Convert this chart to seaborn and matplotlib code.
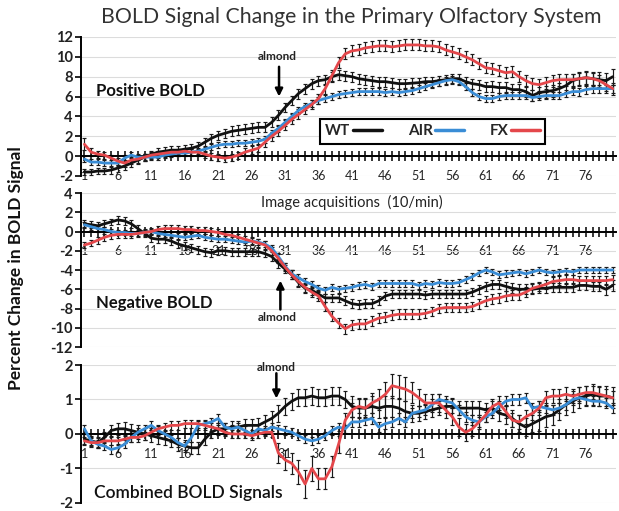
import numpy as np
import seaborn as sns
import matplotlib.pyplot as plt
from matplotlib.lines import Line2D

# Setup
sns.set_theme(style="white")
plt.rcParams['font.family'] = ['Lato', 'DejaVu Sans']
plt.rcParams['axes.unicode_minus'] = False

# image acquisitions 1..80
acq = list(range(1, 81))
tick_labels = [str(i) for i in range(1, 81, 5)]

# ---- Positive BOLD ----
pos_wt = [-1.6, -1.6, -1.5, -1.5, -1.4, -1.2, -1.0, -0.7, -0.4, -0.1,
          0.2, 0.4, 0.5, 0.6, 0.6, 0.7, 0.8, 1.0, 1.4, 1.8,
          2.1, 2.3, 2.5, 2.6, 2.7, 2.8, 2.9, 2.9, 3.4, 4.1,
          4.9, 5.6, 6.3, 6.8, 7.3, 7.6, 7.7, 8.0, 8.2, 8.1,
          8.0, 7.8, 7.7, 7.6, 7.5, 7.5, 7.4, 7.3, 7.3, 7.35,
          7.4, 7.5, 7.5, 7.6, 7.7, 7.8, 7.8, 7.5, 7.3, 7.2,
          7.0, 7.0, 6.9, 6.9, 6.7, 6.7, 6.5, 6.1, 6.4, 6.5,
          6.6, 6.8, 7.1, 7.6, 7.8, 7.9, 7.8, 7.7, 7.6, 8.0]
pos_air = [-0.3, -0.6, -0.6, -0.7, -0.7, -0.7, -0.2, 0.1, -0.1, -0.1,
           -0.1, -0.1, 0.1, 0.2, 0.3, 0.3, 0.4, 0.5, 0.7, 0.9,
           1.1, 1.2, 1.2, 1.3, 1.3, 1.4, 1.5, 1.7, 2.3, 2.8,
           3.4, 4.0, 4.6, 5.0, 5.3, 5.6, 5.8, 6.0, 6.2, 6.3,
           6.4, 6.5, 6.5, 6.5, 6.5, 6.4, 6.5, 6.4, 6.5, 6.6,
           6.8, 7.0, 7.2, 7.4, 7.6, 7.7, 7.5, 7.0, 6.4, 6.0,
           5.8, 5.8, 6.0, 6.1, 6.1, 6.1, 6.1, 5.9, 6.0, 6.1,
           6.1, 6.1, 6.3, 6.5, 6.5, 6.7, 6.8, 6.8, 6.8, 6.8]
pos_fx = [1.2, 0.4, 0.2, 0.1, -0.2, -0.5, -0.7, -0.4, -0.3, -0.1,
          0.1, 0.2, 0.3, 0.4, 0.4, 0.5, 0.4, 0.4, 0.2, 0.0,
          -0.1, -0.2, -0.1, 0.1, 0.4, 0.6, 0.8, 1.4, 2.0, 2.5,
          3.1, 3.7, 4.2, 4.7, 5.2, 5.8, 6.8, 8.1, 9.4, 10.3,
          10.6, 10.7, 10.9, 11.0, 11.1, 11.1, 11.0, 11.1, 11.2, 11.2,
          11.2, 11.1, 11.1, 11.0, 10.7, 10.5, 10.3, 10.0, 9.7, 9.3,
          8.9, 8.8, 8.6, 8.4, 8.5, 8.0, 7.6, 7.3, 7.2, 7.4,
          7.6, 7.7, 7.7, 7.7, 7.8, 7.9, 7.8, 7.6, 7.2, 6.8]
pos_wt_err = [0.3, 0.3, 0.3, 0.35, 0.35, 0.35, 0.35, 0.35, 0.35, 0.35,
              0.35, 0.4, 0.4, 0.4, 0.4, 0.4, 0.4, 0.45, 0.45, 0.45,
              0.45, 0.45, 0.5, 0.5, 0.5, 0.5, 0.5, 0.5, 0.5, 0.5,
              0.5, 0.5, 0.5, 0.5, 0.5, 0.5, 0.5, 0.5, 0.5, 0.5,
              0.5, 0.5, 0.5, 0.5, 0.5, 0.5, 0.5, 0.5, 0.5, 0.5,
              0.5, 0.5, 0.5, 0.5, 0.5, 0.5, 0.5, 0.5, 0.5, 0.5,
              0.5, 0.55, 0.55, 0.55, 0.55, 0.55, 0.55, 0.55, 0.55, 0.6,
              0.6, 0.6, 0.65, 0.65, 0.7, 0.7, 0.7, 0.75, 0.8, 0.8]
pos_air_err = [0.3, 0.3, 0.3, 0.3, 0.3, 0.3, 0.3, 0.3, 0.3, 0.3,
               0.3, 0.3, 0.3, 0.3, 0.3, 0.3, 0.3, 0.3, 0.3, 0.3,
               0.3, 0.3, 0.3, 0.3, 0.3, 0.3, 0.35, 0.35, 0.35, 0.35,
               0.35, 0.35, 0.35, 0.35, 0.35, 0.35, 0.35, 0.35, 0.35, 0.35,
               0.35, 0.35, 0.35, 0.35, 0.35, 0.35, 0.35, 0.35, 0.35, 0.35,
               0.35, 0.35, 0.35, 0.35, 0.35, 0.35, 0.35, 0.35, 0.35, 0.35,
               0.35, 0.35, 0.35, 0.35, 0.35, 0.35, 0.35, 0.35, 0.35, 0.35,
               0.35, 0.35, 0.35, 0.35, 0.4, 0.4, 0.4, 0.4, 0.4, 0.4]
pos_fx_err = [0.6, 0.4, 0.35, 0.35, 0.35, 0.35, 0.35, 0.35, 0.35, 0.35,
              0.35, 0.35, 0.35, 0.35, 0.35, 0.35, 0.35, 0.35, 0.35, 0.35,
              0.35, 0.35, 0.35, 0.35, 0.4, 0.4, 0.4, 0.45, 0.45, 0.5,
              0.5, 0.5, 0.5, 0.5, 0.5, 0.5, 0.5, 0.55, 0.55, 0.55,
              0.55, 0.55, 0.55, 0.55, 0.55, 0.55, 0.55, 0.55, 0.55, 0.55,
              0.55, 0.55, 0.55, 0.55, 0.55, 0.55, 0.55, 0.55, 0.55, 0.55,
              0.55, 0.55, 0.55, 0.55, 0.55, 0.55, 0.6, 0.6, 0.6, 0.6,
              0.6, 0.6, 0.6, 0.6, 0.6, 0.6, 0.6, 0.6, 0.6, 0.6]

# ---- Negative BOLD ----
neg_wt = [0.8, 0.7, 0.6, 0.8, 1.0, 1.2, 1.1, 0.8, 0.3, -0.2,
          -0.7, -0.8, -0.8, -1.0, -1.3, -1.5, -1.7, -1.9, -2.1, -2.2,
          -2.0, -2.0, -2.1, -2.1, -2.1, -2.1, -2.1, -2.3, -2.6, -3.3,
          -3.9, -4.5, -5.3, -5.9, -6.1, -6.5, -6.9, -6.9, -6.9, -7.2,
          -7.5, -7.6, -7.5, -7.5, -7.2, -6.7, -6.5, -6.5, -6.5, -6.5,
          -6.5, -6.6, -6.5, -6.5, -6.5, -6.5, -6.5, -6.5, -6.3, -6.0,
          -5.7, -5.5, -5.5, -5.7, -5.9, -6.0, -6.0, -6.0, -5.9, -5.9,
          -5.8, -5.8, -5.8, -5.8, -5.6, -5.6, -5.7, -5.7, -6.0, -5.6]
neg_air = [0.7, 0.5, 0.3, 0.2, 0.0, -0.1, -0.1, -0.2, -0.2, -0.1,
           0.0, -0.2, -0.3, -0.4, -0.5, -0.6, -0.5, -0.4, -0.6, -0.7,
           -0.8, -0.8, -0.9, -1.0, -1.1, -1.0, -1.1, -1.3, -1.7, -2.6,
           -3.6, -4.4, -4.8, -5.2, -5.5, -5.9, -6.1, -5.8, -6.0, -5.9,
           -5.8, -5.6, -5.5, -5.7, -5.4, -5.4, -5.4, -5.4, -5.4, -5.4,
           -5.6, -5.4, -5.5, -5.3, -5.4, -5.4, -5.3, -5.0, -4.7, -4.3,
           -4.0, -4.2, -4.5, -4.4, -4.3, -4.2, -4.4, -4.2, -4.0, -4.2,
           -4.3, -4.2, -4.1, -4.2, -4.0, -4.0, -4.0, -4.0, -4.0, -4.0]
neg_fx = [-1.4, -1.2, -0.9, -0.6, -0.4, -0.3, -0.3, -0.3, -0.2, -0.1,
          0.0, 0.2, 0.3, 0.3, 0.3, 0.2, 0.2, 0.1, 0.1, 0.0,
          -0.1, -0.3, -0.4, -0.6, -0.8, -1.0, -1.2, -1.4, -2.0, -2.8,
          -3.7, -4.5, -5.2, -5.8, -6.3, -6.7, -7.8, -8.8, -9.5, -10.1,
          -9.7, -9.6, -9.6, -9.3, -9.0, -8.9, -8.7, -8.6, -8.6, -8.6,
          -8.6, -8.5, -8.3, -8.0, -7.9, -7.9, -7.9, -7.9, -7.8, -7.5,
          -7.2, -7.0, -6.9, -6.7, -6.6, -6.6, -6.3, -5.9, -5.7, -5.5,
          -5.2, -5.1, -5.0, -5.0, -5.1, -5.1, -5.1, -5.1, -5.1, -5.0]
neg_wt_err = [0.35, 0.35, 0.35, 0.35, 0.35, 0.4, 0.4, 0.4, 0.4, 0.4,
              0.4, 0.4, 0.4, 0.4, 0.4, 0.4, 0.4, 0.4, 0.4, 0.4,
              0.4, 0.4, 0.4, 0.4, 0.4, 0.4, 0.4, 0.4, 0.45, 0.45,
              0.45, 0.45, 0.45, 0.45, 0.45, 0.45, 0.45, 0.45, 0.45, 0.45,
              0.45, 0.45, 0.45, 0.45, 0.45, 0.45, 0.45, 0.45, 0.45, 0.45,
              0.45, 0.45, 0.45, 0.45, 0.45, 0.45, 0.45, 0.45, 0.45, 0.45,
              0.45, 0.45, 0.45, 0.45, 0.5, 0.5, 0.5, 0.5, 0.5, 0.5,
              0.5, 0.5, 0.5, 0.5, 0.5, 0.5, 0.5, 0.5, 0.55, 0.55]
neg_air_err = [0.3, 0.3, 0.3, 0.3, 0.3, 0.3, 0.3, 0.3, 0.3, 0.3,
               0.3, 0.3, 0.3, 0.3, 0.3, 0.3, 0.3, 0.3, 0.3, 0.3,
               0.3, 0.3, 0.3, 0.3, 0.3, 0.3, 0.3, 0.3, 0.3, 0.35,
               0.35, 0.35, 0.35, 0.35, 0.35, 0.35, 0.35, 0.35, 0.35, 0.35,
               0.35, 0.35, 0.35, 0.35, 0.35, 0.35, 0.35, 0.35, 0.35, 0.35,
               0.35, 0.35, 0.35, 0.35, 0.35, 0.35, 0.35, 0.35, 0.35, 0.35,
               0.35, 0.35, 0.35, 0.35, 0.35, 0.35, 0.35, 0.35, 0.35, 0.35,
               0.35, 0.35, 0.35, 0.35, 0.35, 0.35, 0.35, 0.35, 0.35, 0.35]
neg_fx_err = [0.35, 0.35, 0.35, 0.35, 0.35, 0.35, 0.35, 0.35, 0.35, 0.35,
              0.35, 0.35, 0.35, 0.35, 0.35, 0.35, 0.35, 0.35, 0.35, 0.35,
              0.35, 0.35, 0.35, 0.35, 0.35, 0.4, 0.4, 0.4, 0.4, 0.45,
              0.45, 0.45, 0.45, 0.45, 0.5, 0.5, 0.5, 0.5, 0.5, 0.5,
              0.5, 0.5, 0.5, 0.5, 0.5, 0.5, 0.5, 0.5, 0.5, 0.5,
              0.5, 0.5, 0.5, 0.5, 0.5, 0.5, 0.5, 0.5, 0.5, 0.5,
              0.5, 0.5, 0.5, 0.5, 0.5, 0.5, 0.5, 0.5, 0.5, 0.5,
              0.45, 0.45, 0.45, 0.45, 0.45, 0.45, 0.45, 0.45, 0.45, 0.45]

# ---- Combined BOLD ----
com_wt = [-0.15, -0.2, -0.25, -0.1, 0.1, 0.15, 0.15, 0.1, 0.05, 0.0,
          -0.05, -0.1, -0.15, -0.2, -0.3, -0.35, -0.4, -0.4, -0.15, 0.05,
          0.15, 0.15, 0.2, 0.2, 0.25, 0.25, 0.25, 0.35, 0.45, 0.6,
          0.8, 0.95, 1.05, 1.05, 1.1, 1.05, 1.05, 1.1, 1.1, 1.0,
          0.8, 0.75, 0.75, 0.8, 0.75, 0.8, 0.8, 0.75, 0.65, 0.6,
          0.6, 0.65, 0.7, 0.75, 0.8, 0.8, 0.75, 0.75, 0.75, 0.75,
          0.7, 0.75, 0.6, 0.55, 0.45, 0.3, 0.2, 0.3, 0.4, 0.5,
          0.55, 0.7, 0.85, 0.95, 1.05, 1.1, 1.15, 1.1, 1.1, 1.05]
com_air = [0.15, -0.2, -0.3, -0.35, -0.45, -0.4, -0.3, -0.1, 0.05, 0.15,
           0.25, 0.1, 0.0, -0.1, -0.25, -0.35, -0.1, 0.25, 0.3, 0.35,
           0.45, 0.2, 0.15, 0.2, 0.1, 0.0, 0.15, 0.1, 0.2, 0.15,
           0.1, 0.05, -0.05, -0.15, -0.2, -0.15, -0.05, 0.1, 0.2, 0.15,
           0.35, 0.35, 0.4, 0.45, 0.2, 0.3, 0.35, 0.45, 0.35, 0.6,
           0.65, 0.7, 0.85, 1.0, 0.95, 0.9, 0.7, 0.5, 0.4, 0.35,
           0.5, 0.6, 0.8, 0.95, 1.0, 1.0, 1.05, 0.75, 0.8, 0.75,
           0.7, 0.75, 0.85, 1.0, 1.05, 1.0, 0.95, 0.95, 0.9, 0.75]
com_fx = [-0.2, -0.25, -0.25, -0.2, -0.2, -0.2, -0.15, -0.1, -0.1, -0.05,
          0.05, 0.15, 0.2, 0.25, 0.25, 0.3, 0.3, 0.3, 0.25, 0.2,
          0.15, 0.05, 0.0, 0.0, 0.0, -0.05, 0.0, 0.05, 0.05, -0.55,
          -0.75, -0.85, -1.1, -1.45, -1.0, -1.3, -1.3, -0.95, -0.3, 0.4,
          0.7, 0.8, 0.75, 0.9, 1.0, 1.15, 1.4, 1.35, 1.3, 1.2,
          1.05, 0.9, 0.9, 0.9, 0.7, 0.5, 0.2, 0.05, 0.15, 0.35,
          0.55, 0.8, 0.9, 0.65, 0.4, 0.35, 0.5, 0.6, 0.75, 1.05,
          1.1, 1.1, 1.15, 1.1, 1.15, 1.2, 1.2, 1.15, 1.1, 1.05]
com_wt_err = [0.15, 0.15, 0.15, 0.15, 0.15, 0.18, 0.2, 0.2, 0.2, 0.18,
              0.18, 0.18, 0.18, 0.18, 0.18, 0.18, 0.18, 0.18, 0.18, 0.18,
              0.18, 0.18, 0.18, 0.18, 0.18, 0.18, 0.2, 0.2, 0.22, 0.25,
              0.25, 0.25, 0.25, 0.25, 0.25, 0.25, 0.25, 0.25, 0.25, 0.25,
              0.3, 0.3, 0.3, 0.3, 0.3, 0.3, 0.3, 0.3, 0.3, 0.25,
              0.22, 0.22, 0.2, 0.2, 0.2, 0.2, 0.2, 0.2, 0.2, 0.2,
              0.2, 0.2, 0.22, 0.25, 0.25, 0.25, 0.25, 0.25, 0.3, 0.3,
              0.3, 0.3, 0.3, 0.3, 0.3, 0.3, 0.3, 0.3, 0.3, 0.3]
com_air_err = [0.12, 0.12, 0.12, 0.12, 0.12, 0.12, 0.12, 0.12, 0.12, 0.12,
               0.12, 0.12, 0.12, 0.12, 0.12, 0.12, 0.12, 0.12, 0.12, 0.12,
               0.12, 0.12, 0.12, 0.12, 0.12, 0.12, 0.12, 0.12, 0.12, 0.12,
               0.12, 0.12, 0.12, 0.12, 0.12, 0.12, 0.12, 0.12, 0.12, 0.12,
               0.15, 0.15, 0.15, 0.15, 0.15, 0.15, 0.15, 0.15, 0.15, 0.15,
               0.15, 0.15, 0.15, 0.15, 0.15, 0.15, 0.15, 0.15, 0.15, 0.15,
               0.15, 0.15, 0.15, 0.15, 0.15, 0.15, 0.15, 0.15, 0.15, 0.15,
               0.15, 0.15, 0.15, 0.15, 0.15, 0.15, 0.15, 0.15, 0.15, 0.15]
com_fx_err = [0.12, 0.12, 0.12, 0.12, 0.12, 0.12, 0.12, 0.12, 0.12, 0.12,
              0.12, 0.12, 0.12, 0.12, 0.12, 0.12, 0.12, 0.12, 0.12, 0.12,
              0.12, 0.12, 0.12, 0.12, 0.12, 0.12, 0.12, 0.12, 0.15, 0.3,
              0.3, 0.3, 0.35, 0.4, 0.35, 0.3, 0.3, 0.3, 0.25, 0.2,
              0.2, 0.2, 0.25, 0.3, 0.3, 0.35, 0.35, 0.35, 0.35, 0.3,
              0.25, 0.25, 0.25, 0.25, 0.25, 0.25, 0.25, 0.25, 0.2, 0.2,
              0.2, 0.2, 0.2, 0.2, 0.2, 0.2, 0.2, 0.2, 0.2, 0.2,
              0.2, 0.2, 0.2, 0.2, 0.2, 0.2, 0.2, 0.2, 0.2, 0.2]

colors = {'WT': '#111111', 'AIR': '#3a8dd6', 'FX': '#e4474b'}

panels = [
    dict(series=[('WT', pos_wt, pos_wt_err), ('AIR', pos_air, pos_air_err), ('FX', pos_fx, pos_fx_err)],
         ylim=(-2, 12), yticks=range(-2, 13, 2), rect=[0.131, 0.6556, 0.8643, 0.272]),
    dict(series=[('WT', neg_wt, neg_wt_err), ('AIR', neg_air, neg_air_err), ('FX', neg_fx, neg_fx_err)],
         ylim=(-12, 4), yticks=range(-12, 5, 2), rect=[0.131, 0.3209, 0.8643, 0.3014]),
    dict(series=[('WT', com_wt, com_wt_err), ('AIR', com_air, com_air_err), ('FX', com_fx, com_fx_err)],
         ylim=(-2, 2), yticks=range(-2, 3, 1), rect=[0.131, 0.0157, 0.8643, 0.270]),
]

fig = plt.figure(figsize=(6.19, 5.11), dpi=100)
axes = []
for p in panels:
    ax = fig.add_axes(p['rect'])
    ax.set_axisbelow(True)
    for name, vals, err in p['series']:
        ax.errorbar(acq, vals, yerr=err, fmt='none', ecolor='#1a1a1a',
                    elinewidth=0.85, capsize=1.7, capthick=0.85, zorder=2)
        sns.lineplot(x=acq, y=vals, color=colors[name], lw=2.0, ax=ax,
                     legend=False, zorder=3)
    ax.set_xlim(0.5, 80.5)
    ax.set_ylim(*p['ylim'])
    ax.set_yticks(list(p['yticks']))
    ax.set_yticklabels([str(v) for v in p['yticks']], fontweight='bold', color='#222222')
    ax.set_xticks(acq, minor=True)
    ax.set_xticks(list(range(1, 81, 5)))
    ax.set_xticklabels(tick_labels, fontweight='bold', color='#333333')
    ax.tick_params(axis='x', which='both', direction='inout', length=7, width=1.1,
                   color='black', labelsize=9, pad=6.5, bottom=True)
    ax.tick_params(axis='y', direction='out', length=4, width=1.2, color='black',
                   labelsize=10.5, pad=2, left=True)
    ax.yaxis.grid(True, color='#dcdcdc', lw=0.8)
    ax.xaxis.grid(False)
    for s in ['top', 'right']:
        ax.spines[s].set_visible(False)
    ax.spines['bottom'].set_position(('data', 0))
    ax.spines['bottom'].set_color('black')
    ax.spines['bottom'].set_linewidth(1.4)
    ax.spines['left'].set_color('black')
    ax.spines['left'].set_linewidth(1.4)
    ax.set_xlabel('')
    ax.set_ylabel('')
    ax.patch.set_alpha(0)
    axes.append(ax)

arrow = dict(arrowstyle='-|>', lw=1.8, color='black', mutation_scale=11, shrinkA=0, shrinkB=0)

# Panel 1 annotations
ax1 = axes[0]
ax1.text(2.8, 6.6, 'Positive BOLD', fontsize=12, fontweight='bold', color='#111111', va='center')
ax1.text(29.8, 10.0, 'almond', fontsize=8.5, fontweight='bold', color='#222222', ha='center', va='center')
ax1.annotate('', xy=(30.1, 6.0), xytext=(30.1, 9.0), arrowprops=arrow)
handles = [Line2D([0], [0], color=colors[k], lw=2.5) for k in ['WT', 'AIR', 'FX']]
leg = ax1.legend(handles, ['WT', 'AIR', 'FX'], ncol=3, loc='center',
                 bbox_to_anchor=(0.441, 0.236, 0.432, 0.171), markerfirst=False,
                 handlelength=1.9, handletextpad=0.15, columnspacing=1.7,
                 borderpad=0.35, fancybox=False, framealpha=1,
                 prop={'weight': 'bold', 'size': 11})
leg.get_frame().set_edgecolor('black')
leg.get_frame().set_linewidth(1.5)

# Panel 2 annotations
ax2 = axes[1]
ax2.text(41, 3.0, 'Image acquisitions  (10/min)', fontsize=10.5, color='#222222', ha='center', va='center')
ax2.text(2.8, -7.4, 'Negative BOLD', fontsize=12, fontweight='bold', color='#111111', va='center')
ax2.annotate('', xy=(30.3, -5.1), xytext=(30.3, -8.1), arrowprops=arrow)
ax2.text(29.8, -8.9, 'almond', fontsize=8.5, fontweight='bold', color='#222222', ha='center', va='center')

# Panel 3 annotations
ax3 = axes[2]
ax3.text(29.7, 1.93, 'almond', fontsize=8.5, fontweight='bold', color='#222222', ha='center', va='center')
ax3.annotate('', xy=(29.7, 1.03), xytext=(29.7, 1.76), arrowprops=arrow)
ax3.text(2.5, -1.72, 'Combined BOLD Signals', fontsize=12.5, fontweight='semibold',
         color='#111111', va='center')

fig.text(0.567, 0.966, 'BOLD Signal Change in the Primary Olfactory System', fontsize=15.3,
         color='#333333', ha='center', va='center')
fig.text(0.026, 0.4755, 'Percent Change in BOLD Signal', fontsize=12.5, fontweight='bold',
         color='#111111', rotation=90, ha='center', va='center')

fig.savefig('out.png', dpi=100)
